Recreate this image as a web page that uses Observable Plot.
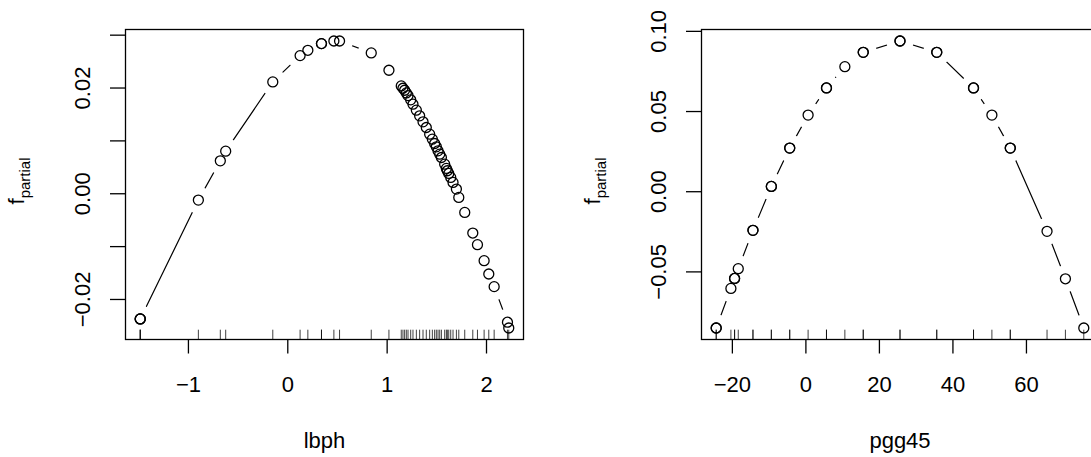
<!DOCTYPE html>
<html>
<head>
<meta charset="utf-8">
<script src="https://cdn.jsdelivr.net/npm/d3@7"></script>
<script src="https://cdn.jsdelivr.net/npm/@observablehq/plot@0.6"></script>
<style>
  html, body { margin: 0; padding: 0; background: white; }
  #wrap { position: relative; width: 1091px; height: 457px; overflow: hidden; background: white; }
  #wrap svg { position: absolute; top: 0; }
</style>
</head>
<body>
<div id="wrap"></div>
<script>
// ---- data: left panel (lbph) ----
const lbphX = [-1.485, -1.485, -1.485, -0.900, -0.679, -0.625, -0.151, 0.124, 0.202, 0.339, 0.339,
  0.464, 0.521, 0.840, 1.018,
  1.142, 1.159, 1.176, 1.193, 1.210, 1.237, 1.260, 1.294, 1.327, 1.361, 1.394, 1.428, 1.455,
  1.478, 1.495, 1.512, 1.529, 1.546, 1.579, 1.596, 1.606, 1.620, 1.640, 1.663, 1.697, 1.721,
  1.781, 1.862, 1.909, 1.976, 2.023, 2.077, 2.211, 2.224];
const lbphY = [-0.02368, -0.02368, -0.02368, -0.0012, 0.00623, 0.00806, 0.02116, 0.02613, 0.02714, 0.0284, 0.0284,
  0.0289, 0.0289, 0.02664, 0.02336,
  0.02040, 0.01996, 0.01958, 0.01908, 0.01857, 0.01776, 0.01694, 0.01581, 0.01474, 0.01360, 0.01253, 0.01127, 0.01033,
  0.00951, 0.00888, 0.00812, 0.00749, 0.00686, 0.00560, 0.00479, 0.00435, 0.00384, 0.00309, 0.00214, 0.00088, -0.00069,
  -0.00353, -0.00743, -0.00963, -0.01266, -0.01518, -0.01757, -0.0243, -0.0254];
const lbphXTicks = [-1, 0, 1, 2];
const lbphYTicks = [-0.02, -0.01, 0.00, 0.01, 0.02, 0.03];
const lbphYLabels = [-0.02, 0.00, 0.02];

// ---- data: right panel (pgg45) ----
const pggX = [-24.4, -24.4, -20.4, -19.4, -19.4, -18.4, -14.4, -14.4, -9.4, -9.4, -4.4, -4.4, 0.6, 5.6, 5.6,
  10.6, 15.6, 15.6, 25.6, 25.6, 35.6, 35.6, 45.6, 45.6, 50.6, 55.6, 55.6, 65.6, 70.6, 75.6];
const pggY = [-0.0850, -0.0850, -0.0603, -0.0541, -0.0541, -0.0480, -0.0241, -0.0241, 0.0033, 0.0033, 0.0272, 0.0272, 0.0478, 0.0647, 0.0647,
  0.0780, 0.0869, 0.0869, 0.0940, 0.0940, 0.0869, 0.0869, 0.0647, 0.0647, 0.0478, 0.0272, 0.0272, -0.0247, -0.0543, -0.0850];
const pggXTicks = [-20, 0, 20, 40, 60];
const pggYTicks = [-0.05, 0.00, 0.05, 0.10];
const pggYLabels = [-0.05, 0.00, 0.05, 0.10];

const FONT = "'Liberation Sans', Arial, Helvetica, sans-serif";
const FS = 22;

function panel({xs, ys, xTicks, yTicks, yLabels, xFormat, yFormat, xLabel, left, width, marginLeft, marginRight}) {
  const data = xs.map((x, i) => ({x, y: ys[i]})).sort((a, b) => a.x - b.x);
  const [x0, x1] = d3.extent(xs), px = (x1 - x0) * 0.04;
  const [y0, y1] = d3.extent(ys), py = (y1 - y0) * 0.04;
  const xd = [x0 - px, x1 + px], yd = [y0 - py, y1 + py];
  const rugTop = yd[0] + 0.03 * (yd[1] - yd[0]);
  const svg = Plot.plot({
    width, height: 457,
    marginTop: 29, marginBottom: 118, marginLeft, marginRight,
    x: {domain: xd},
    y: {domain: yd},
    style: {fontFamily: FONT, fontSize: FS + "px", background: "white", color: "black", overflow: "visible"},
    marks: [
      Plot.line(data, {x: "x", y: "y", stroke: "black", strokeWidth: 1.2}),
      Plot.dot(data, {x: "x", y: "y", r: 13.5, fill: "white", stroke: "none"}),
      Plot.ruleX(xs, {x: d => d, y1: () => yd[0], y2: () => rugTop, stroke: "black", strokeWidth: 0.75}),
      Plot.frame({stroke: "black", strokeWidth: 1.3}),
      Plot.axisX({ticks: xTicks, tickSize: 14.5, tickPadding: 22, tickFormat: xFormat, label: null, fontSize: FS, strokeWidth: 1.3}),
      Plot.axisY({ticks: yTicks, tickSize: 15, tickFormat: () => "", label: null, strokeWidth: 1.3}),
      Plot.text(yLabels, {y: d => d, frameAnchor: "left", dx: -43, rotate: -90, text: yFormat,
        textAnchor: "middle", lineAnchor: "middle", fontSize: FS}),
      Plot.text([xLabel], {frameAnchor: "bottom", dy: 101.5, text: d => d, lineAnchor: "middle", fontSize: FS}),
      Plot.dot(data, {x: "x", y: "y", r: 5, stroke: "black", strokeWidth: 1.3, fill: "none"})
    ]
  });
  svg.style.left = left + "px";
  // y-axis title with subscript
  const t = d3.select(svg).append("text")
    .attr("transform", `translate(${marginLeft - 101},181) rotate(-90)`)
    .attr("text-anchor", "middle")
    .attr("font-family", FONT)
    .attr("fill", "black");
  t.append("tspan").attr("font-size", FS).text("f");
  t.append("tspan").attr("font-size", 15).attr("dy", "0.4em").text("partial");
  return svg;
}

const wrap = document.getElementById("wrap");
wrap.appendChild(panel({
  xs: lbphX, ys: lbphY, xTicks: lbphXTicks, yTicks: lbphYTicks, yLabels: lbphYLabels,
  xFormat: d3.format("d"), yFormat: d3.format(".2f"), xLabel: "lbph",
  left: 0, width: 560, marginLeft: 125, marginRight: 37
}));
wrap.appendChild(panel({
  xs: pggX, ys: pggY, xTicks: pggXTicks, yTicks: pggYTicks, yLabels: pggYLabels,
  xFormat: d3.format("d"), yFormat: d3.format(".2f"), xLabel: "pgg45",
  left: 560, width: 560, marginLeft: 141, marginRight: 22
}));
</script>
</body>
</html>
